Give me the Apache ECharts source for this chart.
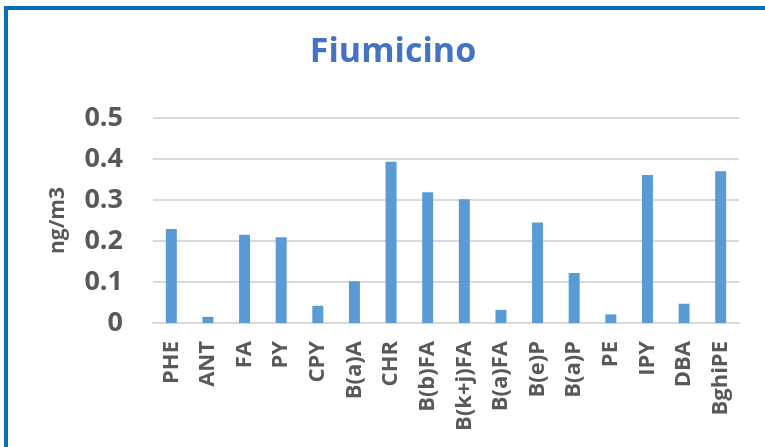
<!DOCTYPE html>
<html><head><meta charset="utf-8">
<script src="https://cdn.jsdelivr.net/npm/echarts@6/dist/echarts.min.js"></script>
<style>html,body{margin:0;padding:0;background:#fff;}#c{width:765px;height:447px;}</style>
</head><body><div id="c"></div>
<script>
const categories = ["PHE","ANT","FA","PY","CPY","B(a)A","CHR","B(b)FA","B(k+j)FA","B(a)FA","B(e)P","B(a)P","PE","IPY","DBA","BghiPE"];
const values = [0.229,0.015,0.215,0.209,0.042,0.102,0.393,0.319,0.302,0.032,0.245,0.122,0.021,0.361,0.047,0.370];
const yTicks = [0,0.1,0.2,0.3,0.4,0.5];
const FONT = 'Open Sans';
const chart = echarts.init(document.getElementById('c'), null, {renderer:'canvas'});
chart.setOption({
  animation:false,
  backgroundColor:'#fff',
  graphic:[{type:'rect',shape:{x:6,y:8,width:800,height:500},style:{fill:'none',stroke:'#0070C0',lineWidth:4},z:100}],
  title:{text:'Fiumicino',left:388,top:30,textAlign:'center',textStyle:{fontFamily:FONT,fontWeight:'bold',fontSize:34,color:'#4472C4'}},
  grid:{left:153,right:26,top:118,bottom:124,containLabel:false},
  xAxis:{type:'category',data:categories,
    axisLine:{lineStyle:{color:'#D9D9D9',width:2}},axisTick:{show:false},
    axisLabel:{rotate:90,margin:18,fontFamily:FONT,fontWeight:'bold',fontSize:22,color:'#595959',interval:0}},
  yAxis:{type:'value',min:yTicks[0],max:yTicks[yTicks.length-1],interval:0.1,
    name:'ng/m3',nameLocation:'middle',nameGap:84,nameRotate:90,
    nameTextStyle:{fontFamily:FONT,fontWeight:'bold',fontSize:21,color:'#595959'},
    axisLine:{show:false},axisTick:{show:false},
    splitLine:{lineStyle:{color:'#D9D9D9',width:2}},
    axisLabel:{margin:30,fontFamily:FONT,fontWeight:'bold',fontSize:27,color:'#595959',
      formatter:v=>{const t=yTicks.find(x=>Math.abs(x-v)<1e-9);return t===undefined?'':String(t);}}},
  series:[{type:'bar',data:values,barWidth:11,itemStyle:{color:'#5B9BD5'}}]
});
</script></body></html>
